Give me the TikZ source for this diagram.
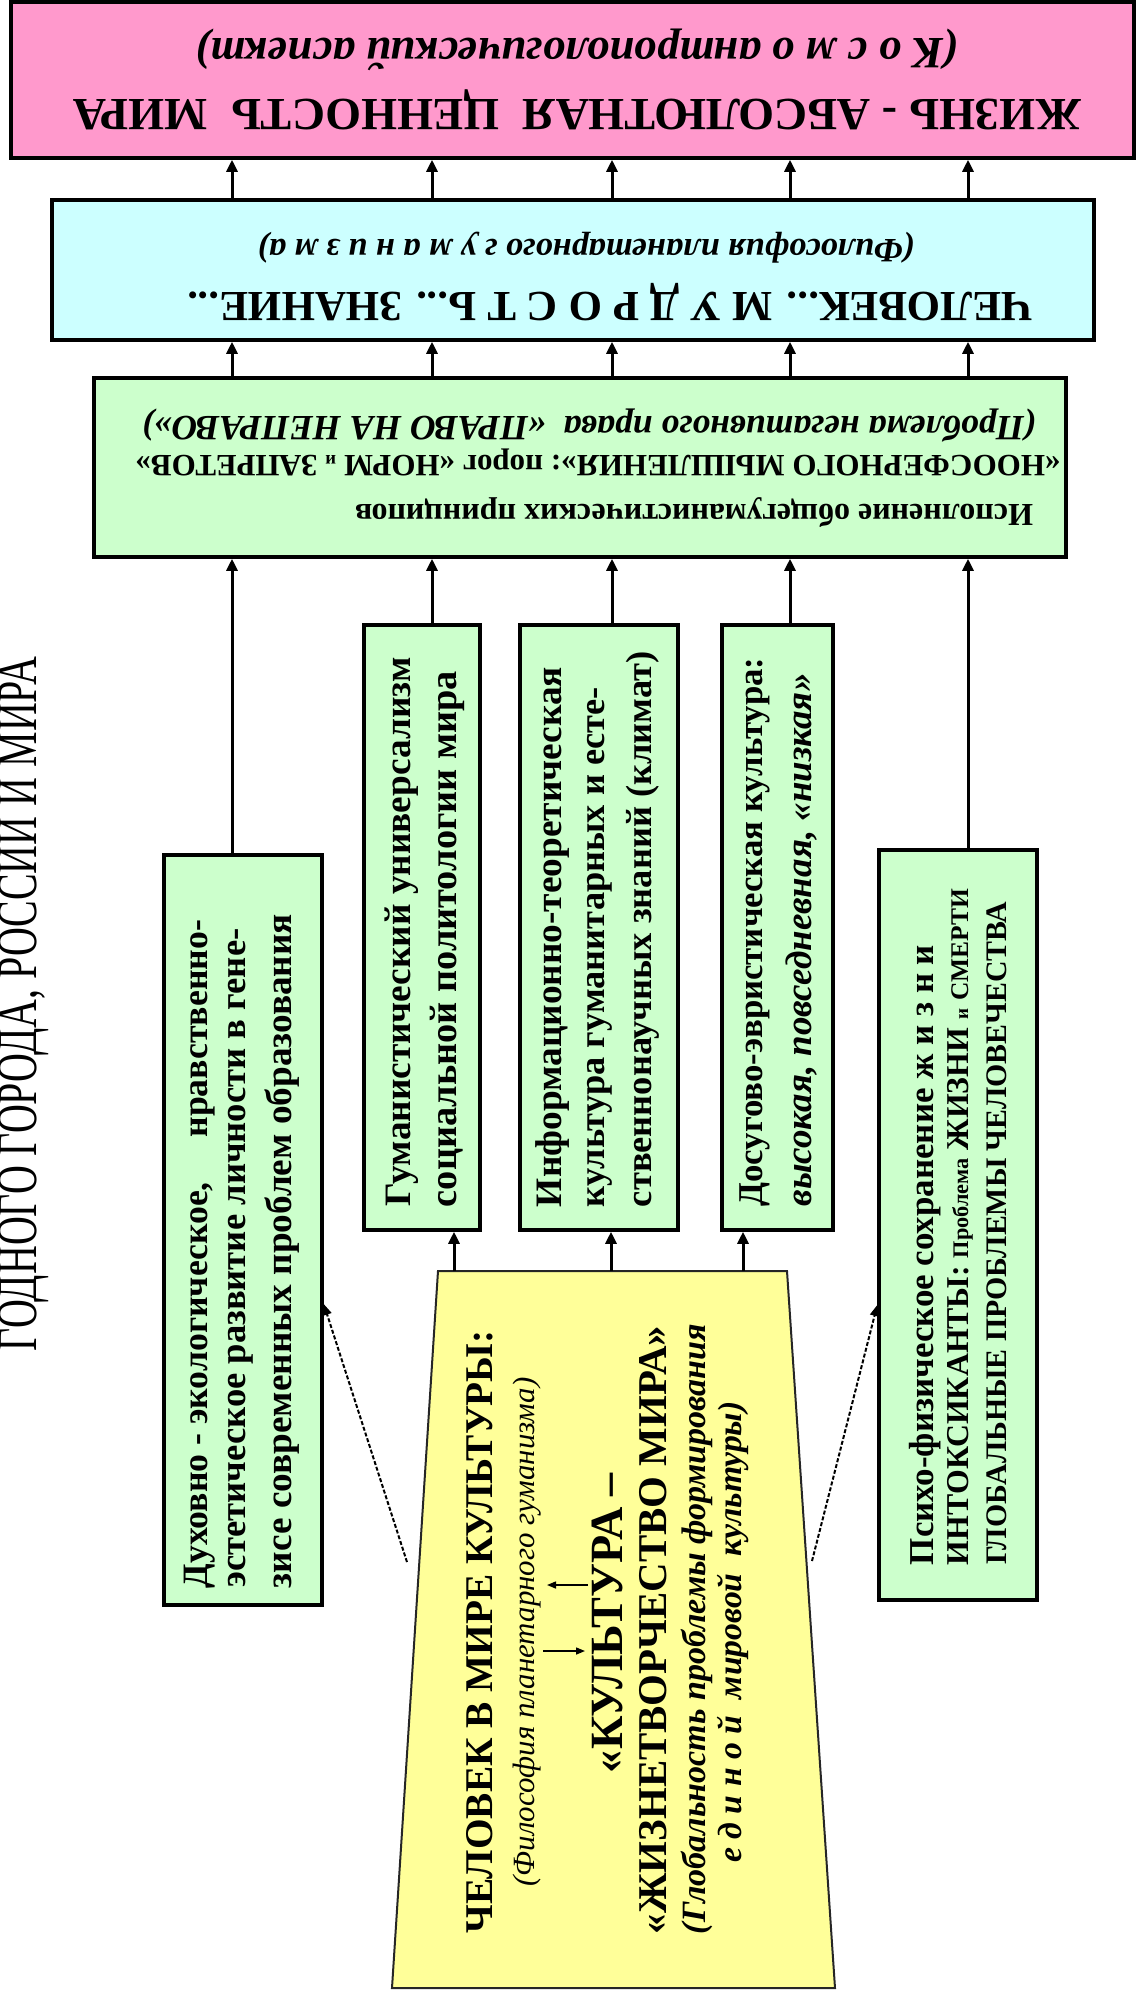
\documentclass[tikz,border=0pt]{standalone}
\usepackage{fontspec}
\setmainfont{Liberation Serif}
\usepackage{graphicx}
\usetikzlibrary{arrows.meta}

\definecolor{pinkfill}{HTML}{FF99CC}
\definecolor{cyanfill}{HTML}{CCFFFF}
\definecolor{greenfill}{HTML}{CCFFCC}
\definecolor{yellowfill}{HTML}{FFFF99}

\newcommand{\fitw}[2]{\resizebox{#1}{!}{#2}}

\tikzset{
  box/.style={draw, line width=3.5pt, inner sep=0pt},
  topline/.style={rotate=180, inner sep=0pt, font=\fontsize{40}{48}\selectfont\bfseries},
  sideline/.style={rotate=90, inner sep=0pt, font=\fontsize{36}{42}\selectfont\bfseries},
  slant/.style={font=\fontsize{36}{42}\selectfont\bfseries\itshape},
  link/.style={line width=3pt, -{Triangle[length=12pt,width=11pt]}},
  hint/.style={line width=2pt, dash pattern=on 4pt off 2pt, -{Triangle[length=11pt,width=9pt]}},
  thin/.style={line width=1.5pt, -{Triangle[length=9pt,width=7pt]}},
}

\begin{document}
\begin{tikzpicture}[x=1pt, y=-1pt]
	\useasboundingbox (0,0) rectangle (1138,1995);

	% the three stacked blocks
	\node[box, fill=pinkfill, minimum width=1123pt, minimum height=156pt] (life) at (572.5,80) {};
	\node[box, fill=cyanfill, minimum width=1042pt, minimum height=140pt] (wisdom) at (573,270) {};
	\node[box, fill=greenfill, minimum width=972pt, minimum height=179pt] (norms) at (580,467.5) {};

	\node[topline] (life1) at (577,110) {\fitw{1008pt}{ЖИЗНЬ - АБСОЛЮТНАЯ \ ЦЕННОСТЬ \ МИРА}};
	\node[topline, slant] (life2) at (577,50) {\fitw{762pt}{(К о с м о антропологический аспект)}};
	\node[topline] (wisdom1) at (610,302) {\fitw{845pt}{ЧЕЛОВЕК... М У Д Р О С Т Ь... ЗНАНИЕ...}};
	\node[topline, slant] (wisdom2) at (586,248) {\fitw{657pt}{(Философия планетарного г у м а н и з м а)}};
	\node[topline] (norms1) at (694,512) {\fitw{678pt}{Исполнение общегуманистических принципов}};
	\node[topline] (norms2) at (598,462) {\fitw{925pt}{«НООСФЕРНОГО МЫШЛЕНИЯ»: порог «НОРМ \scalebox{0.6}{и} ЗАПРЕТОВ»}};
	\node[topline, slant] (norms3) at (589,425) {\fitw{894pt}{(Проблема негативного права \ «ПРАВО НА НЕПРАВО»)}};

	% the five columns
	\node[box, fill=greenfill, minimum width=158pt, minimum height=750pt] (spirit) at (243,1230) {};
	\node[box, fill=greenfill, minimum width=116pt, minimum height=605pt] (human) at (422,927.5) {};
	\node[box, fill=greenfill, minimum width=158pt, minimum height=605pt] (inform) at (599,927.5) {};
	\node[box, fill=greenfill, minimum width=111pt, minimum height=605pt] (leisure) at (777.5,927.5) {};
	\node[box, fill=greenfill, minimum width=158pt, minimum height=750pt] (psycho) at (958,1225) {};

	\node[sideline] (spirit1) at (200,1254) {\fitw{668pt}{Духовно - экологическое, \quad нравственно-}};
	\node[sideline] (spirit2) at (241,1258) {\fitw{659pt}{эстетическое развитие личности в гене-}};
	\node[sideline] (spirit3) at (282,1251) {\fitw{674pt}{зисе современных проблем образования}};
	\node[sideline] (human1) at (402,932) {\fitw{549pt}{Гуманистический универсализм}};
	\node[sideline] (human2) at (447,939) {\fitw{536pt}{социальной политологии мира}};
	\node[sideline] (inform1) at (553,937) {\fitw{540pt}{Информационно-теоретическая}};
	\node[sideline] (inform2) at (600,947) {\fitw{520pt}{культура гуманитарных и есте-}};
	\node[sideline] (inform3) at (643,929) {\fitw{556pt}{ственнонаучных знаний (климат)}};
	\node[sideline] (leisure1) at (755,932) {\fitw{549pt}{Досугово-эвристическая культура:}};
	\node[sideline, slant] (leisure2) at (802,940) {\fitw{533pt}{высокая, повседневная, «низкая»}};
	\node[sideline] (psycho1) at (925,1255) {\fitw{620pt}{Психо-физическое сохранение ж и з н и}};
	\node[sideline] (psycho2) at (960,1227) {\fitw{676pt}{ИНТОКСИКАНТЫ: \scalebox{0.7}{Проблема} ЖИЗНИ \scalebox{0.6}{и} \scalebox{0.8}{СМЕРТИ}}};
	\node[sideline] (psycho3) at (997,1233) {\fitw{663pt}{ГЛОБАЛЬНЫЕ ПРОБЛЕМЫ ЧЕЛОВЕЧЕСТВА}};

	% the culture block
	\coordinate (ytl) at (438,1271);
	\coordinate (ytr) at (787,1271);
	\coordinate (ybr) at (835,1988);
	\coordinate (ybl) at (392,1988);
	\draw[fill=yellowfill, draw=black!85, line width=2pt] (ytl) -- (ytr) -- (ybr) -- (ybl) -- cycle;

	\node[sideline] (culture1) at (480,1632) {\fitw{603pt}{ЧЕЛОВЕК В МИРЕ КУЛЬТУРЫ:}};
	\node[sideline, font=\fontsize{36}{42}\selectfont\itshape] (culture2) at (527,1632) {\fitw{509pt}{(Философия планетарного гуманизма)}};
	\node[sideline] (culture3) at (607,1623) {\fitw{300pt}{«КУЛЬТУРА –}};
	\node[sideline] (culture4) at (653,1630) {\fitw{608pt}{«ЖИЗНЕТВОРЧЕСТВО МИРА»}};
	\node[sideline, slant] (culture5) at (697,1629) {\fitw{610pt}{(Глобальность проблемы формирования}};
	\node[sideline, slant] (culture6) at (733,1632) {\fitw{461pt}{е д и н о й \ мировой \ культуры)}};

	\node[rotate=90, inner sep=0pt, font=\fontsize{40}{48}\selectfont] (motto) at (24,1004) {\resizebox{694pt}{38pt}{ГОДНОГО ГОРОДА, РОССИИ И МИРА}};

	% connectors
	\coordinate (c1) at (232,0);
	\coordinate (c2) at (432,0);
	\coordinate (c3) at (612,0);
	\coordinate (c4) at (790,0);
	\coordinate (c5) at (968,0);
	\foreach \c in {c1,c2,c3,c4,c5} {
		\draw[link] (wisdom.north -| \c) -- (life.south -| \c);
		\draw[link] (norms.north -| \c) -- (wisdom.south -| \c);
	}
	\foreach \b/\c in {spirit/c1, human/c2, inform/c3, leisure/c4, psycho/c5}
		\draw[link] (\b.north -| \c) -- (norms.south -| \c);

	\coordinate (d1) at (454,0);
	\coordinate (d2) at (611,0);
	\coordinate (d3) at (743,0);
	\foreach \b/\d in {human/d1, inform/d2, leisure/d3}
		\draw[link] (ytl -| \d) -- (\b.south -| \d);

	\coordinate (hl) at (407,1562);
	\coordinate (hr) at (812,1561);
	\draw[hint] (hl) -- ([yshift=-74pt]spirit.east);
	\draw[hint] (hr) -- ([yshift=-80pt]psycho.west);

	\coordinate (up0) at (588,1585);
	\coordinate (up1) at (547,1585);
	\coordinate (dn0) at (543,1651);
	\coordinate (dn1) at (585,1651);
	\draw[thin] (up0) -- (up1);
	\draw[thin] (dn0) -- (dn1);
\end{tikzpicture}
\end{document}
